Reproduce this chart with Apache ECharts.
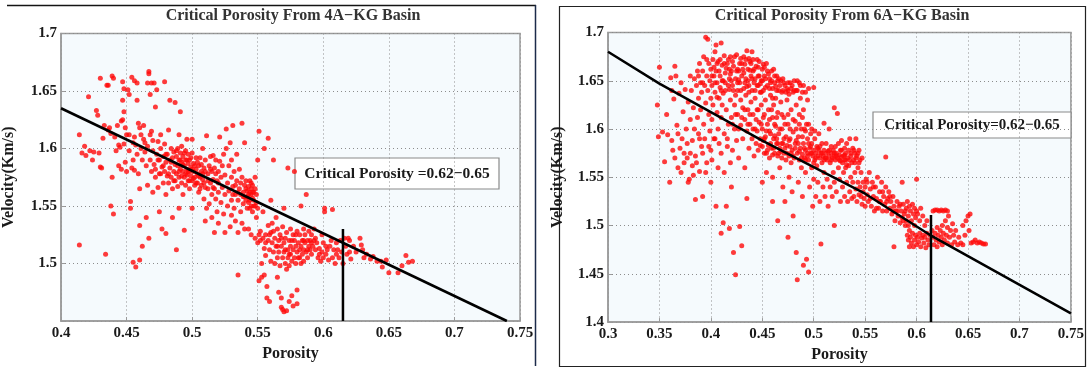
<!DOCTYPE html>
<html>
<head>
<meta charset="utf-8">
<script src="https://cdn.jsdelivr.net/npm/echarts@6.0.0/dist/echarts.min.js"></script>
<style>
  html, body { margin: 0; padding: 0; background: #ffffff; }
  #chart { width: 1087px; height: 368px; }
</style>
</head>
<body>
<div id="chart"></div>
<script>
// ---- Panel titles and annotation text ----
const panelTitles = ['Critical Porosity From 4A\u2212KG Basin', 'Critical Porosity From 6A\u2212KG Basin'];
const annotationTexts = ['Critical Porosity =0.62\u22120.65', 'Critical Porosity=0.62\u22120.65'];
const xAxisName = 'Porosity';
const yAxisName = 'Velocity(Km/s)';

// ---- Axis ranges ----
const xRange4A = [0.4, 0.75];
const yRange4A = [1.45, 1.7];
const xRange6A = [0.3, 0.75];
const yRange6A = [1.4, 1.7];
const tickStep = 0.05;
const hiddenYTicks4A = [1.45];

// ---- 4A-KG basin: porosity / velocity samples ----
const samples4A = [
  [0.414,1.612],[0.414,1.516],[0.416,1.596],[0.418,1.602],[0.419,1.594],[0.421,1.645],[0.422,1.598],
  [0.424,1.590],[0.425,1.597],[0.427,1.633],[0.428,1.629],[0.429,1.596],[0.430,1.661],[0.430,1.584],[0.431,1.583],[0.432,1.609],
  [0.433,1.620],[0.434,1.508],[0.435,1.655],[0.436,1.655],[0.436,1.616],[0.437,1.618],[0.438,1.613],[0.438,1.550],[0.439,1.663],
  [0.439,1.575],[0.440,1.661],[0.440,1.543],[0.441,1.610],[0.442,1.598],[0.443,1.620],[0.444,1.603],[0.444,1.585],[0.445,1.601],
  [0.446,1.624],[0.446,1.582],[0.447,1.658],[0.447,1.642],[0.447,1.625],[0.448,1.652],[0.448,1.632],[0.448,1.604],[0.449,1.618],
  [0.449,1.588],[0.450,1.612],[0.450,1.580],
  [0.451,1.651],[0.452,1.647],[0.452,1.598],[0.453,1.548],[0.453,1.554],[0.454,1.662],[0.454,1.583],[0.455,1.590],[0.455,1.501],
  [0.456,1.659],[0.456,1.610],[0.456,1.581],[0.457,1.497],[0.457,1.603],[0.458,1.657],[0.458,1.642],[0.458,1.595],[0.459,1.622],
  [0.459,1.578],[0.460,1.503],[0.460,1.533],[0.460,1.618],[0.460,1.565],
  [0.461,1.600],[0.462,1.515],[0.462,1.590],[0.463,1.620],[0.463,1.608],[0.464,1.597],[0.465,1.540],[0.465,1.585],[0.466,1.657],
  [0.466,1.602],[0.466,1.568],[0.467,1.667],[0.467,1.665],[0.467,1.522],[0.468,1.647],[0.468,1.612],[0.468,1.590],[0.469,1.657],
  [0.469,1.580],[0.470,1.598],[0.470,1.562],[0.470,1.607],
  [0.471,1.657],[0.471,1.586],[0.472,1.636],[0.472,1.575],[0.473,1.651],[0.473,1.595],[0.474,1.566],[0.474,1.606],[0.475,1.590],
  [0.475,1.578],[0.475,1.545],[0.476,1.600],[0.476,1.612],[0.477,1.584],[0.477,1.530],[0.478,1.570],[0.478,1.593],[0.479,1.658],
  [0.479,1.604],[0.479,1.580],[0.480,1.588],[0.480,1.560],[0.480,1.526],
  [0.481,1.595],[0.481,1.576],[0.482,1.616],[0.482,1.570],[0.483,1.642],[0.483,1.590],[0.483,1.583],[0.484,1.600],[0.484,1.575],
  [0.485,1.565],[0.485,1.592],[0.485,1.540],[0.486,1.580],[0.486,1.597],[0.487,1.640],[0.487,1.586],[0.487,1.572],[0.488,1.512],
  [0.488,1.593],[0.488,1.578],[0.489,1.600],[0.489,1.567],[0.489,1.585],[0.490,1.590],[0.490,1.575],[0.490,1.548],[0.490,1.612],
  [0.491,1.632],[0.491,1.582],[0.491,1.596],[0.492,1.570],[0.492,1.588],[0.492,1.602],[0.493,1.580],[0.493,1.593],[0.493,1.560],
  [0.494,1.585],[0.494,1.575],[0.494,1.529],[0.495,1.598],[0.495,1.590],[0.495,1.568],[0.496,1.582],[0.496,1.577],[0.496,1.608],
  [0.497,1.587],[0.497,1.572],[0.497,1.595],[0.498,1.580],[0.498,1.565],[0.498,1.590],[0.499,1.576],[0.499,1.584],[0.500,1.572],
  [0.500,1.596],[0.500,1.548],[0.500,1.608],
  [0.501,1.580],[0.501,1.587],[0.502,1.575],[0.502,1.568],[0.503,1.592],[0.503,1.582],[0.504,1.570],[0.504,1.578],[0.505,1.585],
  [0.505,1.562],[0.506,1.575],[0.506,1.592],[0.507,1.580],[0.507,1.568],[0.508,1.600],[0.508,1.573],[0.509,1.583],[0.509,1.556],
  [0.510,1.537],[0.510,1.590],[0.510,1.566],[0.511,1.611],[0.511,1.548],
  [0.512,1.578],[0.512,1.565],[0.513,1.585],[0.513,1.552],[0.514,1.570],[0.514,1.593],[0.515,1.560],[0.515,1.580],[0.515,1.540],
  [0.516,1.573],[0.516,1.594],[0.517,1.565],[0.517,1.583],[0.517,1.527],[0.518,1.556],[0.518,1.590],[0.519,1.572],[0.519,1.545],
  [0.520,1.580],[0.520,1.562],[0.520,1.535],
  [0.521,1.610],[0.521,1.589],[0.522,1.575],[0.522,1.553],[0.523,1.585],[0.523,1.566],[0.524,1.543],[0.524,1.595],[0.525,1.577],
  [0.525,1.527],[0.525,1.560],[0.526,1.617],[0.526,1.600],[0.527,1.570],[0.527,1.550],[0.528,1.585],[0.528,1.563],[0.529,1.532],
  [0.529,1.605],[0.530,1.575],[0.530,1.555],[0.530,1.542],[0.530,1.590],
  [0.531,1.567],[0.531,1.620],[0.532,1.580],[0.532,1.548],[0.533,1.560],[0.533,1.537],[0.534,1.572],[0.534,1.595],[0.535,1.555],
  [0.535,1.527],[0.535,1.490],[0.536,1.565],[0.536,1.582],[0.537,1.560],[0.537,1.545],[0.538,1.622],[0.538,1.575],[0.538,1.535],
  [0.539,1.562],[0.539,1.552],[0.540,1.568],[0.540,1.558],[0.540,1.605],[0.540,1.530],
  [0.541,1.572],[0.541,1.555],[0.542,1.563],[0.542,1.548],[0.543,1.560],[0.543,1.567],[0.543,1.530],[0.544,1.555],[0.544,1.572],
  [0.545,1.560],[0.545,1.550],[0.545,1.565],[0.545,1.525],[0.546,1.557],[0.546,1.568],[0.546,1.545],[0.547,1.555],[0.547,1.562],
  [0.548,1.575],[0.548,1.550],[0.548,1.522],[0.549,1.560],[0.549,1.540],[0.550,1.518],[0.550,1.548],[0.550,1.590],
  [0.551,1.525],[0.551,1.615],[0.551,1.485],[0.552,1.520],[0.552,1.528],[0.553,1.488],[0.553,1.500],[0.554,1.522],[0.554,1.545],
  [0.555,1.513],[0.555,1.600],[0.555,1.490],[0.556,1.525],[0.556,1.507],[0.557,1.480],[0.557,1.470],[0.558,1.520],[0.558,1.533],
  [0.558,1.609],[0.559,1.512],[0.559,1.467],[0.560,1.527],[0.560,1.502],[0.560,1.555],
  [0.561,1.518],[0.561,1.535],[0.562,1.510],[0.562,1.590],[0.563,1.522],[0.563,1.500],[0.564,1.540],[0.564,1.515],[0.565,1.505],
  [0.565,1.530],[0.565,1.488],[0.566,1.520],[0.566,1.510],[0.566,1.475],[0.567,1.525],[0.567,1.498],[0.568,1.515],[0.568,1.470],
  [0.568,1.462],[0.569,1.505],[0.569,1.532],[0.569,1.460],[0.570,1.518],[0.570,1.510],[0.570,1.458],[0.570,1.548],
  [0.571,1.500],[0.571,1.522],[0.572,1.527],[0.572,1.459],[0.572,1.495],[0.573,1.512],[0.573,1.505],[0.573,1.583],[0.574,1.520],
  [0.574,1.498],[0.574,1.467],[0.575,1.515],[0.575,1.508],[0.575,1.530],[0.576,1.502],[0.576,1.472],[0.577,1.525],[0.577,1.512],
  [0.577,1.463],[0.578,1.505],[0.578,1.520],[0.578,1.580],[0.579,1.500],[0.579,1.515],[0.580,1.528],[0.580,1.510],[0.580,1.465],
  [0.580,1.477],
  [0.581,1.518],[0.581,1.505],[0.582,1.512],[0.582,1.525],[0.583,1.500],[0.583,1.515],[0.583,1.550],[0.584,1.520],[0.584,1.508],
  [0.585,1.512],[0.585,1.530],[0.585,1.502],[0.586,1.518],[0.586,1.525],[0.587,1.510],[0.587,1.560],[0.588,1.520],[0.588,1.505],
  [0.589,1.515],[0.589,1.528],[0.590,1.512],[0.590,1.520],
  [0.591,1.525],[0.591,1.508],[0.592,1.515],[0.593,1.520],[0.593,1.530],[0.594,1.512],[0.595,1.518],[0.596,1.505],[0.597,1.513],
  [0.598,1.502],[0.599,1.510],[0.600,1.518],[0.600,1.505],
  [0.601,1.545],[0.601,1.548],[0.602,1.515],[0.602,1.508],[0.603,1.512],[0.604,1.503],[0.605,1.515],[0.606,1.520],[0.607,1.505],
  [0.607,1.547],[0.608,1.512],[0.609,1.500],[0.610,1.508],[0.610,1.518],
  [0.611,1.512],[0.612,1.505],[0.613,1.520],[0.614,1.510],[0.615,1.500],[0.616,1.522],[0.617,1.515],[0.618,1.508],[0.619,1.522],
  [0.620,1.520],[0.620,1.510],[0.621,1.504],
  [0.623,1.515],[0.625,1.510],[0.628,1.522],[0.629,1.516],[0.630,1.512],[0.631,1.505],
  [0.633,1.508],[0.636,1.504],[0.638,1.506],[0.641,1.502],[0.644,1.502],[0.645,1.497],[0.648,1.503],[0.650,1.492],[0.657,1.492],
  [0.660,1.498],[0.663,1.507],[0.665,1.501],[0.668,1.502],
  [0.472,1.582],[0.474,1.590],[0.476,1.578],[0.478,1.585],[0.480,1.595],[0.482,1.578],[0.484,1.588],[0.486,1.572],[0.488,1.598],
  [0.490,1.580],[0.491,1.590],[0.492,1.576],[0.493,1.586],[0.494,1.596],[0.495,1.578],[0.496,1.590],[0.497,1.580],[0.498,1.572],
  [0.499,1.592],[0.500,1.582],[0.501,1.574],[0.502,1.585],[0.503,1.570],[0.504,1.588],[0.505,1.576],[0.506,1.565],[0.507,1.586],
  [0.508,1.578],[0.509,1.570],[0.510,1.580],[0.512,1.572],[0.514,1.582],[0.516,1.566],[0.518,1.578],[0.520,1.570],
  [0.531,1.560],[0.533,1.568],[0.535,1.562],[0.537,1.570],[0.539,1.558],[0.541,1.565],[0.542,1.558],[0.543,1.553],[0.544,1.562],
  [0.545,1.570],[0.546,1.562],[0.547,1.550],[0.548,1.565],[0.549,1.553],[0.544,1.548],
  [0.556,1.518],[0.559,1.525],[0.562,1.528],[0.565,1.515],[0.568,1.522],[0.571,1.512],[0.574,1.508],[0.576,1.520],[0.579,1.525],
  [0.582,1.505],[0.585,1.520],[0.588,1.512],[0.591,1.518],[0.594,1.522],[0.597,1.508],[0.599,1.525],
  [0.452,1.612],[0.455,1.605],[0.461,1.612],[0.464,1.605],[0.469,1.615]
];

// ---- 6A-KG basin: porosity / velocity samples ----
const samples6A = [
  [0.348,1.625],[0.349,1.592],[0.350,1.664],[0.353,1.597],[0.355,1.566],[0.357,1.615],[0.358,1.594],[0.360,1.545],[0.361,1.653],
  [0.362,1.640],[0.363,1.578],[0.364,1.631],[0.365,1.665],[0.366,1.655],[0.367,1.604],[0.368,1.560],[0.369,1.637],[0.370,1.580],
  [0.371,1.648],[0.372,1.590],[0.373,1.618],[0.374,1.575],[0.375,1.641],[0.376,1.600],[0.377,1.570],[0.378,1.628],[0.379,1.548],
  [0.380,1.610],[0.380,1.655],[0.378,1.545],
  [0.381,1.640],[0.382,1.588],[0.382,1.562],[0.383,1.622],[0.384,1.652],[0.384,1.600],[0.385,1.527],[0.385,1.572],[0.386,1.645],
  [0.387,1.612],[0.387,1.660],[0.388,1.595],[0.388,1.632],[0.389,1.556],[0.389,1.668],[0.390,1.648],[0.390,1.620],[0.391,1.582],
  [0.391,1.638],[0.392,1.530],[0.392,1.660],[0.393,1.605],[0.393,1.675],[0.394,1.645],[0.394,1.590],[0.395,1.695],[0.395,1.627],
  [0.396,1.655],[0.396,1.565],[0.397,1.693],[0.397,1.640],[0.398,1.615],[0.398,1.668],[0.399,1.598],[0.399,1.650],[0.400,1.632],
  [0.400,1.578],[0.400,1.662],[0.400,1.545],
  [0.401,1.645],[0.401,1.610],[0.402,1.672],[0.402,1.625],[0.403,1.655],[0.403,1.590],[0.404,1.638],[0.404,1.680],[0.405,1.687],
  [0.405,1.660],[0.405,1.520],[0.406,1.617],[0.406,1.648],[0.407,1.600],[0.407,1.670],[0.408,1.632],[0.408,1.585],[0.409,1.655],
  [0.409,1.643],[0.410,1.689],[0.410,1.612],[0.410,1.492],[0.411,1.666],[0.411,1.625],[0.412,1.650],[0.412,1.503],[0.413,1.676],
  [0.413,1.595],[0.414,1.640],[0.414,1.658],[0.415,1.620],[0.415,1.520],[0.416,1.668],[0.416,1.582],[0.417,1.645],[0.417,1.605],
  [0.418,1.652],[0.418,1.497],[0.419,1.630],[0.419,1.675],[0.420,1.612],[0.420,1.660],[0.420,1.540],[0.421,1.578],[0.421,1.645],
  [0.422,1.472],[0.422,1.665],[0.423,1.625],[0.423,1.600],[0.424,1.449],[0.424,1.652],[0.425,1.677],[0.425,1.588],[0.426,1.640],
  [0.426,1.615],[0.427,1.660],[0.427,1.570],[0.428,1.499],[0.428,1.648],[0.429,1.630],[0.429,1.604],[0.430,1.479],[0.430,1.668],
  [0.430,1.655],[0.431,1.622],[0.431,1.590],[0.432,1.642],[0.432,1.675],[0.433,1.610],[0.433,1.560],[0.434,1.652],[0.434,1.635],
  [0.435,1.681],[0.435,1.528],[0.435,1.598],[0.436,1.662],[0.436,1.620],[0.437,1.645],[0.437,1.580],[0.438,1.670],[0.438,1.605],
  [0.439,1.655],[0.439,1.628],[0.440,1.680],[0.440,1.640],[0.440,1.590],[0.441,1.660],[0.441,1.615],[0.442,1.572],
  [0.442,1.648],[0.443,1.632],[0.443,1.600],[0.444,1.665],[0.444,1.585],[0.445,1.645],[0.445,1.620],[0.446,1.655],[0.446,1.578],
  [0.447,1.670],[0.447,1.607],[0.448,1.638],[0.448,1.590],[0.449,1.650],[0.449,1.625],[0.450,1.662],[0.450,1.582],[0.450,1.600],
  [0.450,1.545],[0.451,1.640],[0.451,1.612],[0.452,1.655],[0.452,1.575],[0.453,1.630],[0.453,1.592],[0.454,1.668],[0.454,1.555],
  [0.455,1.645],[0.455,1.605],[0.456,1.620],[0.456,1.583],[0.457,1.652],[0.457,1.570],[0.458,1.635],[0.458,1.595],[0.459,1.660],
  [0.459,1.580],[0.460,1.642],[0.460,1.612],[0.460,1.525],[0.460,1.550],
  [0.461,1.625],[0.461,1.590],[0.462,1.648],[0.462,1.575],[0.463,1.603],[0.463,1.632],[0.464,1.585],[0.464,1.655],[0.465,1.505],
  [0.465,1.572],[0.465,1.617],[0.466,1.640],[0.466,1.595],[0.467,1.560],[0.467,1.580],[0.468,1.628],[0.468,1.650],[0.469,1.570],
  [0.469,1.600],[0.470,1.640],[0.470,1.585],[0.470,1.540],[0.471,1.612],[0.471,1.575],[0.472,1.645],[0.472,1.525],[0.473,1.592],
  [0.473,1.568],[0.474,1.630],[0.474,1.583],[0.475,1.488],[0.475,1.640],[0.475,1.605],[0.476,1.572],[0.476,1.550],[0.477,1.648],
  [0.477,1.590],[0.478,1.620],[0.478,1.565],[0.479,1.578],[0.479,1.535],[0.480,1.638],[0.480,1.597],[0.480,1.510],
  [0.481,1.650],[0.481,1.570],[0.482,1.608],[0.482,1.585],[0.483,1.472],[0.483,1.625],[0.484,1.444],[0.484,1.575],[0.484,1.640],
  [0.485,1.592],[0.485,1.545],[0.486,1.568],[0.486,1.615],[0.487,1.580],[0.487,1.645],[0.488,1.600],[0.488,1.560],[0.489,1.574],
  [0.489,1.530],[0.490,1.459],[0.490,1.620],[0.490,1.585],[0.491,1.570],[0.491,1.600],[0.492,1.555],[0.492,1.578],[0.493,1.605],
  [0.493,1.465],[0.494,1.572],[0.494,1.590],[0.495,1.452],[0.495,1.642],[0.495,1.568],[0.496,1.580],[0.496,1.540],[0.497,1.575],
  [0.497,1.595],[0.498,1.560],[0.498,1.585],[0.499,1.572],[0.499,1.520],[0.500,1.643],[0.500,1.578],[0.500,1.548],
  [0.501,1.568],[0.501,1.590],[0.502,1.575],[0.502,1.530],[0.503,1.582],[0.503,1.562],[0.504,1.572],[0.504,1.545],[0.505,1.578],
  [0.505,1.595],[0.506,1.570],[0.506,1.525],[0.507,1.481],[0.507,1.575],[0.508,1.565],[0.508,1.585],[0.509,1.572],[0.509,1.540],
  [0.510,1.606],[0.510,1.578],[0.510,1.555],[0.511,1.570],[0.511,1.530],[0.512,1.575],[0.512,1.585],[0.513,1.568],[0.513,1.548],
  [0.514,1.577],[0.514,1.520],[0.515,1.600],[0.515,1.572],[0.516,1.565],[0.516,1.540],[0.517,1.575],[0.517,1.582],[0.518,1.570],
  [0.518,1.530],[0.519,1.578],[0.519,1.555],[0.520,1.622],[0.520,1.572],[0.520,1.500],[0.520,1.545],
  [0.521,1.568],[0.521,1.582],[0.522,1.575],[0.522,1.535],[0.523,1.616],[0.523,1.570],[0.524,1.560],[0.524,1.585],[0.525,1.573],
  [0.525,1.548],[0.526,1.567],[0.526,1.525],[0.527,1.578],[0.527,1.588],[0.528,1.565],[0.528,1.540],[0.529,1.572],[0.529,1.555],
  [0.530,1.580],[0.530,1.568],[0.530,1.530],[0.531,1.575],[0.531,1.560],[0.532,1.585],[0.532,1.545],[0.533,1.570],[0.533,1.525],
  [0.534,1.578],[0.534,1.562],[0.535,1.590],[0.535,1.535],[0.536,1.572],[0.536,1.550],[0.537,1.565],[0.537,1.528],[0.538,1.580],
  [0.538,1.545],[0.539,1.568],[0.539,1.530],[0.540,1.575],[0.540,1.555],[0.541,1.590],[0.541,1.538],[0.542,1.572],[0.542,1.525],
  [0.543,1.560],[0.543,1.545],[0.544,1.578],[0.544,1.532],[0.545,1.568],[0.545,1.540],[0.546,1.530],[0.546,1.555],[0.547,1.522],
  [0.548,1.545],[0.548,1.535],[0.549,1.528],[0.550,1.540],[0.550,1.520],
  [0.551,1.548],[0.552,1.532],[0.553,1.525],[0.554,1.555],[0.555,1.538],[0.556,1.520],[0.557,1.545],[0.558,1.530],[0.559,1.515],
  [0.560,1.540],[0.561,1.528],[0.562,1.550],[0.563,1.518],[0.564,1.535],[0.565,1.525],[0.566,1.545],[0.567,1.515],[0.568,1.530],
  [0.569,1.522],[0.570,1.571],[0.570,1.540],[0.571,1.515],[0.572,1.528],[0.573,1.535],[0.574,1.518],[0.575,1.525],[0.576,1.512],
  [0.577,1.530],[0.578,1.478],[0.578,1.520],[0.579,1.505],[0.580,1.515],[0.581,1.525],[0.582,1.510],[0.583,1.520],[0.584,1.503],
  [0.585,1.515],[0.586,1.545],[0.586,1.508],[0.587,1.522],[0.588,1.512],[0.589,1.500],[0.590,1.518],[0.590,1.505],[0.591,1.525],
  [0.592,1.510],[0.593,1.520],[0.593,1.495],[0.594,1.515],[0.595,1.505],[0.596,1.522],[0.597,1.512],[0.598,1.500],[0.598,1.518],
  [0.599,1.508],[0.600,1.515],[0.600,1.548],
  [0.591,1.490],[0.592,1.485],[0.593,1.478],[0.594,1.488],[0.595,1.482],[0.596,1.492],[0.597,1.478],[0.598,1.485],[0.599,1.490],
  [0.600,1.480],[0.601,1.488],[0.602,1.483],[0.603,1.492],[0.604,1.478],[0.605,1.487],[0.606,1.490],[0.607,1.482],[0.608,1.488],
  [0.609,1.477],[0.610,1.492],[0.611,1.485],[0.612,1.480],[0.613,1.490],
  [0.601,1.512],[0.603,1.505],[0.604,1.518],[0.606,1.510],[0.608,1.500],[0.610,1.505],
  [0.616,1.515],[0.618,1.516],[0.620,1.516],[0.622,1.515],[0.624,1.516],[0.626,1.515],[0.628,1.516],[0.630,1.515],
  [0.615,1.495],[0.616,1.488],[0.617,1.480],[0.618,1.492],[0.619,1.485],[0.620,1.478],[0.620,1.498],[0.621,1.490],[0.622,1.483],
  [0.623,1.495],[0.624,1.488],[0.625,1.480],[0.625,1.500],[0.626,1.492],[0.627,1.485],[0.628,1.505],[0.629,1.490],[0.630,1.482],
  [0.630,1.498],[0.631,1.510],[0.632,1.488],[0.633,1.495],[0.634,1.480],[0.635,1.502],
  [0.636,1.490],[0.637,1.483],[0.638,1.495],[0.640,1.480],[0.641,1.488],[0.643,1.482],[0.645,1.480],[0.647,1.490],[0.648,1.505],
  [0.650,1.510],[0.651,1.495],[0.652,1.512],[0.653,1.482],[0.655,1.483],[0.657,1.485],[0.659,1.482],[0.661,1.483],[0.663,1.482],
  [0.665,1.481],[0.667,1.481],[0.645,1.500],
  [0.403,1.664],[0.406,1.633],[0.409,1.672],[0.412,1.637],[0.415,1.663],[0.418,1.641],[0.421,1.670],[0.424,1.635],[0.427,1.651],
  [0.429,1.673],[0.432,1.658],[0.435,1.644],[0.438,1.661],[0.441,1.672],[0.443,1.652],[0.446,1.664],[0.448,1.647],[0.451,1.667],
  [0.453,1.643],[0.456,1.657],[0.458,1.648],[0.461,1.662],[0.463,1.644],[0.466,1.652],[0.469,1.638],[0.471,1.648],[0.474,1.642],
  [0.476,1.636],[0.479,1.645],[0.483,1.640],[0.486,1.648],[0.489,1.638],[0.433,1.667],[0.437,1.673],[0.426,1.662],[0.419,1.657],
  [0.411,1.650],[0.396,1.672],[0.392,1.648],[0.388,1.655],
  [0.445,1.598],[0.448,1.583],[0.452,1.590],[0.455,1.578],[0.457,1.598],[0.460,1.573],[0.462,1.593],[0.465,1.585],[0.468,1.577],
  [0.471,1.590],[0.474,1.575],[0.477,1.582],[0.480,1.572],[0.483,1.588],[0.486,1.577],[0.489,1.592],[0.492,1.568],[0.495,1.585],
  [0.498,1.575],[0.502,1.570],[0.506,1.582],[0.510,1.568],[0.515,1.578],[0.520,1.575],[0.525,1.568],[0.530,1.573],[0.535,1.568],
  [0.540,1.565],[0.532,1.563],[0.527,1.571],
  [0.401,1.655],[0.404,1.648],[0.406,1.668],[0.408,1.660],[0.410,1.640],[0.413,1.668],[0.414,1.648],[0.417,1.672],[0.418,1.662],
  [0.420,1.650],[0.422,1.640],[0.423,1.675],[0.425,1.660],[0.426,1.648],[0.428,1.668],[0.429,1.640],[0.431,1.662],[0.433,1.648],
  [0.434,1.672],[0.436,1.650],[0.437,1.638],[0.439,1.668],[0.440,1.652],[0.442,1.662],[0.443,1.640],[0.445,1.672],[0.446,1.645],
  [0.447,1.655],[0.449,1.638],[0.450,1.650],[0.452,1.664],[0.453,1.652],[0.455,1.660],[0.457,1.642],[0.459,1.650],[0.460,1.632],
  [0.462,1.655],[0.464,1.640],[0.465,1.650],[0.467,1.645],[0.470,1.652],[0.473,1.638],[0.475,1.648],[0.478,1.642],[0.481,1.640],
  [0.484,1.650],[0.487,1.632],[0.490,1.645],[0.492,1.638],[0.494,1.630],
  [0.421,1.605],[0.424,1.615],[0.427,1.600],[0.430,1.612],[0.433,1.620],[0.436,1.605],[0.438,1.615],[0.441,1.600],[0.444,1.610],
  [0.446,1.620],[0.449,1.605],[0.452,1.615],[0.454,1.598],[0.457,1.610],[0.459,1.620],[0.462,1.605],[0.464,1.612],[0.467,1.600],
  [0.469,1.615],[0.472,1.605],[0.475,1.615],[0.477,1.600],[0.480,1.610],[0.483,1.600],[0.486,1.605],[0.489,1.612],[0.492,1.598],
  [0.495,1.605],[0.498,1.600],[0.501,1.598],
  [0.451,1.588],[0.454,1.575],[0.458,1.585],[0.461,1.580],[0.464,1.590],[0.466,1.575],[0.469,1.585],[0.472,1.580],[0.476,1.588],
  [0.478,1.575],[0.482,1.580],[0.485,1.585],[0.488,1.570],[0.491,1.580],[0.494,1.575],[0.497,1.582],[0.500,1.565],[0.504,1.580],
  [0.508,1.575],[0.512,1.570],[0.517,1.568],[0.522,1.572],[0.526,1.578],[0.531,1.568],[0.536,1.575],[0.539,1.578],[0.541,1.570],
  [0.543,1.575],[0.544,1.565],[0.547,1.570],
  [0.362,1.588],[0.365,1.570],[0.368,1.595],[0.371,1.555],[0.374,1.565],[0.377,1.585],[0.380,1.575],[0.383,1.552],[0.386,1.565],
  [0.389,1.590],[0.392,1.575],[0.395,1.555],[0.398,1.582],[0.401,1.568],[0.404,1.590],[0.407,1.560],[0.410,1.575],[0.413,1.555],
  [0.416,1.590],[0.419,1.565],
  [0.552,1.545],[0.555,1.528],[0.558,1.540],[0.561,1.518],[0.564,1.525],[0.567,1.535],[0.571,1.525],[0.574,1.530],[0.577,1.515],
  [0.581,1.515],[0.584,1.522],[0.587,1.505],[0.589,1.515],[0.592,1.500]
];

// ---- Fitted trend lines and critical-porosity markers ----
const trend4A = [[0.4, 1.635], [0.74, 1.45]];
const trend6A = [[0.3, 1.680], [0.35, 1.647], [0.45, 1.588], [0.55, 1.533], [0.615, 1.489], [0.75, 1.409]];
const cutoff4A = [[0.615, 1.45], [0.615, 1.53]];
const cutoff6A = [[0.614, 1.40], [0.614, 1.511]];

const FONT = '"Liberation Serif", "Times New Roman", serif';
const chart = echarts.init(document.getElementById('chart'), null, { renderer: 'canvas' });

function fmtTick(v) { return String(parseFloat(v.toFixed(2))); }

function xAxisFor(gridIndex, range) {
  return {
    type: 'value', gridIndex: gridIndex, min: range[0], max: range[1], interval: tickStep,
    name: xAxisName, nameLocation: 'middle', nameGap: 24,
    nameTextStyle: { fontFamily: FONT, fontWeight: 'bold', fontSize: 16, color: '#1a1a1a' },
    axisLine: { show: true, lineStyle: { color: '#9a9a9a', width: 1.5 } },
    axisTick: { show: true, inside: true, length: 4, lineStyle: { color: '#9a9a9a' } },
    axisLabel: { margin: 5, fontFamily: FONT, fontWeight: 'bold', fontSize: 15, color: '#1a1a1a', formatter: fmtTick },
    splitLine: { show: true, lineStyle: { color: '#8c8c8c', type: [1, 3], width: 1 } }
  };
}

function yAxisFor(gridIndex, range, hidden, gap) {
  return {
    type: 'value', gridIndex: gridIndex, min: range[0], max: range[1], interval: tickStep,
    name: yAxisName, nameLocation: 'middle', nameRotate: 90, nameGap: gap,
    nameTextStyle: { fontFamily: FONT, fontWeight: 'bold', fontSize: 16, color: '#1a1a1a' },
    axisLine: { show: true, lineStyle: { color: '#9a9a9a', width: 1.5 } },
    axisTick: { show: true, inside: true, length: 4, lineStyle: { color: '#9a9a9a' } },
    axisLabel: {
      margin: 4, fontFamily: FONT, fontWeight: 'bold', fontSize: 15, color: '#1a1a1a',
      formatter: function (v) {
        for (const h of hidden) { if (Math.abs(v - h) < 1e-6) return ''; }
        return fmtTick(v);
      }
    },
    splitLine: { show: true, lineStyle: { color: '#8c8c8c', type: [1, 3], width: 1 } }
  };
}

function scatterFor(idx, data) {
  return {
    type: 'scatter', xAxisIndex: idx, yAxisIndex: idx, data: data,
    symbol: 'circle', symbolSize: 5, itemStyle: { color: '#ff0a0a' }, z: 2, silent: true
  };
}

function lineFor(idx, data) {
  return {
    type: 'line', xAxisIndex: idx, yAxisIndex: idx, data: data, symbol: 'none',
    lineStyle: { color: '#000000', width: 2.5 }, z: 3, silent: true, animation: false
  };
}

function annotation(x, y, w, h, text, size) {
  return {
    type: 'group', z: 10,
    children: [
      { type: 'rect', shape: { x: x, y: y, width: w, height: h }, style: { fill: '#ffffff', stroke: '#8a8a8a', lineWidth: 1.2 } },
      { type: 'text', style: { x: x + w / 2, y: y + h / 2, text: text, align: 'center', verticalAlign: 'middle',
        font: 'bold ' + size + 'px ' + FONT, fill: '#1a1a1a' } }
    ]
  };
}

function titleText(cx, cy, text) {
  return { type: 'text', z: 10, style: { x: cx, y: cy, text: text, align: 'center', verticalAlign: 'middle',
    font: 'bold 16px ' + FONT, fill: '#333333' } };
}

chart.setOption({
  animation: false,
  backgroundColor: '#ffffff',
  grid: [
    { left: 61, top: 33.5, width: 459, height: 287.5, show: true, backgroundColor: '#f5fafd', borderColor: '#9a9a9a', borderWidth: 1.5 },
    { left: 608, top: 32.5, width: 464, height: 292, show: true, backgroundColor: '#f5fafd', borderColor: '#9a9a9a', borderWidth: 1.5 }
  ],
  xAxis: [xAxisFor(0, xRange4A), xAxisFor(1, xRange6A)],
  yAxis: [yAxisFor(0, yRange4A, hiddenYTicks4A, 44), yAxisFor(1, yRange6A, [], 42)],
  series: [
    scatterFor(0, samples4A), lineFor(0, trend4A), lineFor(0, cutoff4A),
    scatterFor(1, samples6A), lineFor(1, trend6A), lineFor(1, cutoff6A)
  ],
  graphic: [
    // figure frames
    { type: 'line', shape: { x1: 7, y1: 5.5, x2: 536, y2: 5.5 }, style: { stroke: '#141414', lineWidth: 1.5 } },
    { type: 'line', shape: { x1: 535.5, y1: 5, x2: 535.5, y2: 366 }, style: { stroke: '#1c2b4a', lineWidth: 1.5 } },
    { type: 'rect', shape: { x: 559.5, y: 6.5, width: 526, height: 360 }, style: { fill: 'none', stroke: '#222222', lineWidth: 1.2 } },
    titleText(293, 16, panelTitles[0]),
    titleText(842, 16, panelTitles[1]),
    annotation(295, 158, 204, 31, annotationTexts[0], 15.5),
    annotation(873, 112, 198, 26, annotationTexts[1], 15)
  ]
});
</script>
</body>
</html>
